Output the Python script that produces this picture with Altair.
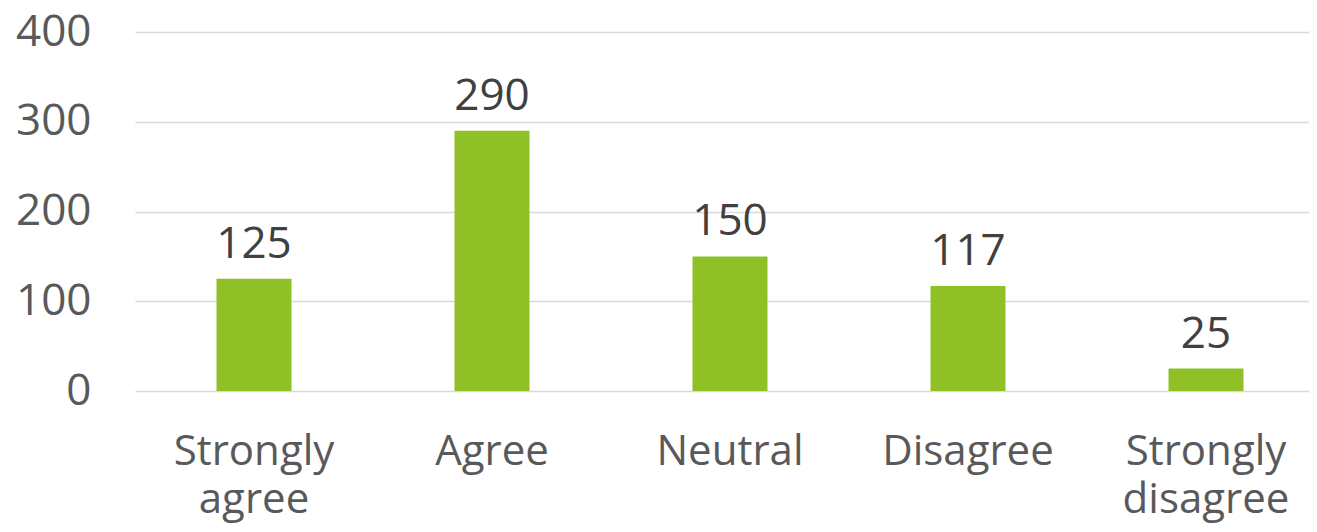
import altair as alt
import pandas as pd

categories = ["Strongly agree", "Agree", "Neutral", "Disagree", "Strongly disagree"]
counts = [125, 290, 150, 117, 25]

df = pd.DataFrame({"category": categories, "count": counts})

FONT = "Open Sans"

base = alt.Chart(df).encode(
    x=alt.X("category:N", sort=categories,
            scale=alt.Scale(paddingInner=0.685, paddingOuter=0.3425, range=[0, 1190]),
            axis=alt.Axis(title=None, labelAngle=0, domain=False, ticks=False,
                          labelFont=FONT, labelFontSize=42, labelColor="#595959",
                          labelPadding=40, labelLineHeight=48, labelBaseline="top",
                          labelExpr="split(datum.label, ' ')")),
    y=alt.Y("count:Q", scale=alt.Scale(domain=[0, 400]),
            axis=alt.Axis(title=None, values=[0, 100, 200, 300, 400], domain=False,
                          ticks=False, labelFont=FONT, labelFontSize=44,
                          labelColor="#595959", labelPadding=44,
                          gridColor="#D9D9D9", gridWidth=1.5)),
)

bars = base.mark_bar(color="#8FC126")
labels = base.mark_text(baseline="alphabetic", dy=-21, font=FONT, fontSize=44,
                        color="#404040").encode(text="count:Q")

chart = (bars + labels).properties(
    width=1174, height=359,
    autosize=alt.AutoSizeParams(type="none"),
    padding={"left": 127, "top": 24, "right": 0, "bottom": 133},
).configure_view(stroke=None)

chart.save("out.html", embed_options={"renderer": "svg", "actions": False})
